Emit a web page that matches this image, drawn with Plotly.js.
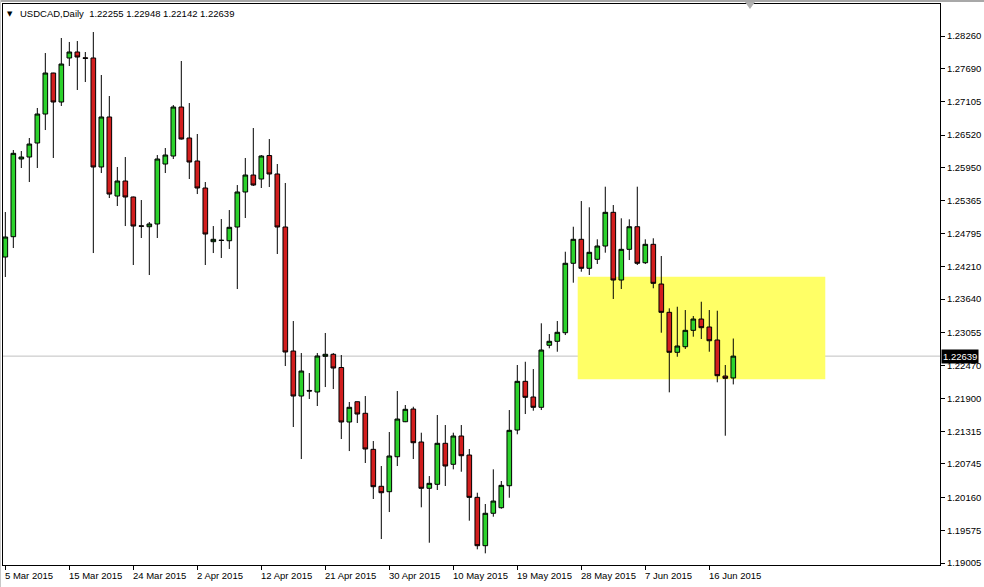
<!DOCTYPE html>
<html>
<head>
<meta charset="utf-8">
<script src="https://cdn.plot.ly/plotly-3.0.1.min.js"></script>
<style>
  html, body { margin:0; padding:0; background:#ffffff; }
  #wrap { position:relative; width:984px; height:587px; overflow:hidden; }
  #chart { position:absolute; left:0; top:0; width:984px; height:587px; }
  .edgeTop { position:absolute; left:0; top:0; width:984px; height:2px; background:#a8a8a8; }
  .edgeLeft { position:absolute; left:0; top:0; width:1px; height:587px; background:#c8c8c8; }
</style>
</head>
<body>
<div id="wrap">
  <div id="chart"></div>
  <div class="edgeTop"></div>
  <div class="edgeLeft"></div>
</div>
<script>
// USDCAD daily bars (5 Mar 2015 .. 19 Jun 2015), one entry per bar
const opens = [
  1.24379, 1.24736, 1.26100, 1.26135, 1.26381, 1.26890, 1.27610, 1.27101, 1.27874, 1.27979,
  1.27877, 1.27874, 1.25960, 1.26838, 1.25450, 1.25714, 1.25433, 1.24926, 1.24911, 1.24959,
  1.26012, 1.26153, 1.27013, 1.26469, 1.26065, 1.25591, 1.24648, 1.24675, 1.24665, 1.24906,
  1.25521, 1.25819, 1.25749, 1.26161, 1.25837, 1.24906, 1.22728, 1.21938, 1.22036, 1.22009,
  1.22635, 1.22671, 1.22439, 1.21482, 1.21838, 1.21635, 1.21002, 1.20353, 1.20258, 1.20872,
  1.21487, 1.21710, 1.21131, 1.20318, 1.20388, 1.21108, 1.20739, 1.21236, 1.20902, 1.20159,
  1.19310, 1.19879, 1.19977, 1.20363, 1.21341, 1.22196, 1.21921, 1.21740, 1.22829, 1.22899,
  1.23050, 1.24269, 1.24690, 1.24181, 1.24339, 1.24572, 1.25164, 1.23975, 1.24514, 1.24911,
  1.24279, 1.24602, 1.23905, 1.23408, 1.22706, 1.22804, 1.23092, 1.23290, 1.23150, 1.22922,
  1.22289, 1.22255
];
const highs = [
  1.25169, 1.26258, 1.26240, 1.26469, 1.26996, 1.27961, 1.27614, 1.28225, 1.28155, 1.28172,
  1.27979, 1.28330, 1.27575, 1.27206, 1.25960, 1.26135, 1.25440, 1.25380, 1.24994, 1.26170,
  1.26293, 1.27048, 1.27821, 1.27083, 1.26539, 1.25696, 1.24923, 1.25046, 1.25204, 1.25643,
  1.26118, 1.26644, 1.26170, 1.26451, 1.26012, 1.25679, 1.23255, 1.22693, 1.22342, 1.22693,
  1.23045, 1.22693, 1.22658, 1.21833, 1.21841, 1.21938, 1.21148, 1.20709, 1.21306, 1.22026,
  1.21780, 1.21750, 1.21294, 1.20533, 1.21605, 1.21429, 1.21294, 1.21429, 1.21008, 1.20240,
  1.20042, 1.20651, 1.20446, 1.21692, 1.22483, 1.22540, 1.22412, 1.23215, 1.23027, 1.23255,
  1.24472, 1.24911, 1.25362, 1.25252, 1.24690, 1.25614, 1.25292, 1.25059, 1.25041, 1.25614,
  1.24690, 1.24708, 1.24397, 1.23478, 1.23506, 1.23448, 1.23343, 1.23594, 1.23448, 1.23436,
  1.22483, 1.22948
];
const lows = [
  1.24028, 1.24537, 1.25942, 1.25696, 1.25942, 1.26609, 1.26118, 1.27031, 1.27733, 1.27312,
  1.27452, 1.24449, 1.25854, 1.25415, 1.25275, 1.24923, 1.24239, 1.24713, 1.24063, 1.24713,
  1.25854, 1.26100, 1.26442, 1.25749, 1.25485, 1.24239, 1.24449, 1.24362, 1.24520, 1.23817,
  1.25064, 1.25626, 1.25591, 1.25608, 1.24432, 1.22465, 1.21394, 1.20832, 1.21886, 1.21763,
  1.22096, 1.22061, 1.21183, 1.20972, 1.21464, 1.20762, 1.20130, 1.19427, 1.19901, 1.20709,
  1.21480, 1.20832, 1.19984, 1.19362, 1.20288, 1.20358, 1.20651, 1.20609, 1.19749, 1.19246,
  1.19176, 1.19819, 1.19959, 1.20152, 1.21266, 1.21622, 1.21680, 1.21692, 1.22776, 1.22716,
  1.23009, 1.23928, 1.24121, 1.24063, 1.24256, 1.24455, 1.23642, 1.23817, 1.24326, 1.24239,
  1.24256, 1.23830, 1.23050, 1.22003, 1.22628, 1.22764, 1.22980, 1.22939, 1.22716, 1.22179,
  1.21241, 1.22142
];
const closes = [
  1.24730, 1.26200, 1.26135, 1.26363, 1.26890, 1.27610, 1.27101, 1.27768, 1.27979, 1.27891,
  1.27868, 1.25960, 1.26838, 1.25485, 1.25714, 1.25433, 1.24923, 1.24920, 1.24959, 1.26100,
  1.26170, 1.27013, 1.26451, 1.26047, 1.25591, 1.24783, 1.24690, 1.24670, 1.24901, 1.25521,
  1.25819, 1.25643, 1.26153, 1.25837, 1.24906, 1.22711, 1.21938, 1.22377, 1.22026, 1.22641,
  1.22671, 1.22430, 1.21482, 1.21740, 1.21622, 1.21008, 1.20346, 1.20240, 1.20885, 1.21534,
  1.21705, 1.21118, 1.20318, 1.20405, 1.21108, 1.20709, 1.21236, 1.20890, 1.20159, 1.19310,
  1.19879, 1.20094, 1.20370, 1.21336, 1.22196, 1.21915, 1.21740, 1.22746, 1.22899, 1.23057,
  1.24269, 1.24690, 1.24181, 1.24462, 1.24572, 1.25164, 1.23975, 1.24514, 1.24911, 1.24269,
  1.24602, 1.23917, 1.23408, 1.22706, 1.22816, 1.23092, 1.23290, 1.23138, 1.22909, 1.22295,
  1.22249, 1.22639
];

// time axis labels (bar number -> label)
const tickBars  = [0, 8, 16, 24, 32, 40, 48, 56, 64, 72, 80, 88];
const tickTexts = ['5 Mar 2015', '15 Mar 2015', '24 Mar 2015', '2 Apr 2015', '12 Apr 2015',
                   '21 Apr 2015', '30 Apr 2015', '10 May 2015', '19 May 2015', '28 May 2015',
                   '7 Jun 2015', '16 Jun 2015'];

// price scale labels
const priceTicks = [1.28260, 1.27690, 1.27105, 1.26520, 1.25950, 1.25365, 1.24795, 1.24210,
                    1.23640, 1.23055, 1.22470, 1.21900, 1.21315, 1.20745, 1.20160, 1.19575, 1.19005];

// highlighted zone (bar range and price range) and current price
const zoneBars   = [71.55, 102.5];
const zonePrices = [1.22232, 1.24033];
const lastPrice  = 1.22639;
const symbolText = 'USDCAD,Daily&nbsp; 1.22255 1.22948 1.22142 1.22639';

const bars = opens.map((_, i) => i);
const FONT = 'Liberation Sans, Arial, sans-serif';

const trace = {
  type: 'candlestick',
  x: bars, open: opens, high: highs, low: lows, close: closes,
  increasing: { fillcolor: '#2cd22c', line: { color: '#000000', width: 1 } },
  decreasing: { fillcolor: '#d21e1e', line: { color: '#000000', width: 1 } },
  whiskerwidth: 0,
  hoverinfo: 'skip'
};

const annotations = tickBars.map((b, i) => ({
  x: b, xref: 'x', y: 0, yref: 'paper',
  xanchor: 'left', yanchor: 'top', xshift: -2, yshift: -3,
  text: tickTexts[i], showarrow: false,
  font: { family: FONT, size: 9.5, color: '#000000' }
}));

annotations.push({
  x: 0.0075, xref: 'paper', y: 1, yref: 'paper', xanchor: 'center', yanchor: 'top', yshift: -4,
  text: '▼', showarrow: false, font: { family: 'DejaVu Sans', size: 7, color: '#000000' }
});
annotations.push({
  x: 0.0165, xref: 'paper', y: 1, yref: 'paper', xanchor: 'left', yanchor: 'top', yshift: -2,
  text: symbolText, showarrow: false, font: { family: FONT, size: 9.5, color: '#000000' }
});
annotations.push({
  x: 1, xref: 'paper', y: lastPrice, yref: 'y', xanchor: 'left', yanchor: 'middle', xshift: 1,
  text: lastPrice.toFixed(5), showarrow: false, bgcolor: '#000000', borderpad: 1,
  font: { family: FONT, size: 9.5, color: '#ffffff' }
});

const layout = {
  width: 984, height: 587,
  margin: { l: 3, r: 44, t: 4, b: 22, pad: 0 },
  paper_bgcolor: '#ffffff', plot_bgcolor: '#ffffff',
  showlegend: false,
  boxgap: 0.42, boxgroupgap: 0,
  xaxis: {
    range: [-0.29, 116.84], fixedrange: true,
    rangeslider: { visible: false },
    showgrid: false, zeroline: false,
    showline: true, mirror: true, linecolor: '#000000', linewidth: 1,
    tickmode: 'array', tickvals: tickBars, showticklabels: false,
    ticks: 'outside', ticklen: 4, tickcolor: '#000000', tickwidth: 1
  },
  yaxis: {
    side: 'right',
    range: [1.18971, 1.28822], fixedrange: true,
    showgrid: false, zeroline: false,
    showline: true, mirror: true, linecolor: '#000000', linewidth: 1,
    tickmode: 'array', tickvals: priceTicks,
    ticktext: priceTicks.map(v => v.toFixed(5)),
    ticks: 'outside', ticklen: 4, tickcolor: '#000000', tickwidth: 1,
    tickfont: { family: FONT, size: 9.5, color: '#000000' }
  },
  shapes: [
    { type: 'rect', xref: 'x', yref: 'y', layer: 'below',
      x0: zoneBars[0], x1: zoneBars[1], y0: zonePrices[0], y1: zonePrices[1],
      fillcolor: '#ffff66', line: { width: 0 } },
    { type: 'line', xref: 'paper', yref: 'y', layer: 'below',
      x0: 0, x1: 1, y0: lastPrice, y1: lastPrice,
      line: { color: '#c0c0c0', width: 1 } },
    { type: 'path', xref: 'paper', yref: 'paper',
      path: 'M 0.7919 1.0036 L 0.8026 1.0036 L 0.7972 0.9911 Z',
      fillcolor: '#b0b0b0', line: { width: 0 } }
  ],
  annotations: annotations
};

Plotly.newPlot('chart', [trace], layout, { staticPlot: true, displayModeBar: false });
</script>
</body>
</html>
